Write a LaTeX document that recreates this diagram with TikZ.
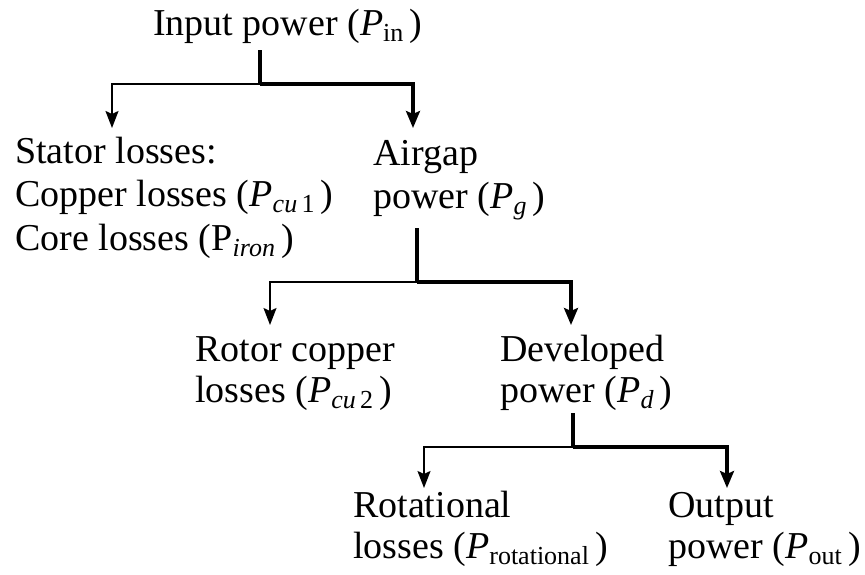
\documentclass[tikz,border=0pt]{standalone}
\usepackage{fontspec}
\setmainfont{Liberation Serif}
\usetikzlibrary{arrows.meta}
\newcommand\sbs[1]{\raisebox{-0.35ex}{\fontsize{26}{26}\selectfont #1}}
\begin{document}
\begin{tikzpicture}[x=1pt,y=-1pt,
  lbl/.style={anchor=base west, inner sep=0pt, align=left, font=\fontsize{38}{41}\selectfont},
  thinln/.style={line width=1.8pt},
  thickln/.style={line width=3.2pt},
  thinarr/.style={thinln,-{Stealth[length=17pt,width=13pt,inset=3pt]}},
  thickarr/.style={thickln,-{Stealth[length=17pt,width=14pt,inset=3pt]}}]
\useasboundingbox (0,0) rectangle (865,574);
% labels (anchored at the baseline of the last line)
\node[lbl] (in) at (153,35) {Input power (\textit{P}\sbs{in}\,)};
\node[lbl, font=\fontsize{38}{43.5}\selectfont] (st) at (15,250) {Stator losses:\\Copper losses (\textit{P}\sbs{\textit{cu}\,1}\,)\\Core losses (P\sbs{\textit{iron}}\,)};
\node[lbl, font=\fontsize{38}{43}\selectfont] (ag) at (373,208) {Airgap\\power (\textit{P}\sbs{\textit{g}}\,)};
\node[lbl] (rc) at (195,402) {Rotor copper\\losses (\textit{P}\sbs{\textit{cu}\,2}\,)};
\node[lbl] (dp) at (500,402) {Developed\\power (\textit{P}\sbs{\textit{d}}\,)};
\node[lbl] (rl) at (353,558) {Rotational\\losses (\textit{P}\sbs{rotational}\,)};
\node[lbl] (op) at (668,558) {Output\\power (\textit{P}\sbs{out}\,)};
% junctions and arrow tips
\coordinate (j1) at (260,84);
\coordinate (t1l) at (112,128);
\coordinate (t1r) at (413,128);
\coordinate (j2) at (417,282);
\coordinate (t2l) at (270,325);
\coordinate (t2r) at (571,325);
\coordinate (j3) at (573,447);
\coordinate (t3l) at (424,488);
\coordinate (t3r) at (727,488);
\coordinate (s1) at (260,50);
\coordinate (s2) at (417,228);
\coordinate (s3) at (573,413);
% connectors
\draw[thickln] (s1) -- (j1);
\draw[thinarr] (j1) -| (t1l);
\draw[thickarr] (j1) -| (t1r);
\draw[thickln] (s2) -- (j2);
\draw[thinarr] (j2) -| (t2l);
\draw[thickarr] (j2) -| (t2r);
\draw[thickln] (s3) -- (j3);
\draw[thinarr] (j3) -| (t3l);
\draw[thickarr] (j3) -| (t3r);
\end{tikzpicture}
\end{document}
